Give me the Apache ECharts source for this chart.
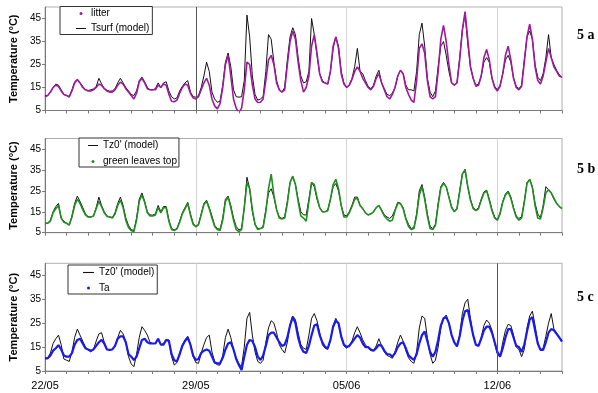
<!DOCTYPE html>
<html>
<head>
<meta charset="utf-8">
<script src="https://cdn.jsdelivr.net/npm/echarts@6/dist/echarts.min.js"></script>
<style>
html,body{margin:0;padding:0;background:#fff;}
#chart{width:598px;height:393px;}
</style>
</head>
<body>
<div id="chart"></div>
<script>
// time step between values: 3 hours, in days; x axis in days since 22/05
const stepDays = 3 / 24;
const tickDays = [0, 7, 14, 21];
const tickLabels = ['22/05', '29/05', '05/06', '12/06'];
const weekLineDays = [7, 14, 21];
const yTicks = [5, 15, 25, 35, 45];

// Panel 5a
const tsurfModel = [
11.5,11.5,13,15,16.5,16,14,12,
11.5,10.8,14,17.5,18.5,17,15.5,14,
13.7,14,14.4,15.4,19,16.6,14.6,13.8,
13.4,13.5,14.5,17,19,17,15,13.5,
12,11.5,13.5,18,19.5,17.5,15,14,
14,14.5,17,15,17,17.5,13.5,11,
10,10.5,13.5,15.5,17,18,13,11,
10.8,11.5,15,20,26,22,13,10,
8.6,9,16,26,30,24,14,11,
10.8,11,18,46.5,37,20,12,9.5,
10,11,22,38,36,26,18,14,
13,15,27,37,41,38,28,20,
17,17.5,22,45,38,29,21,18,
17,16.5,22,32,37,33,22,17,
15,16,19,24,32,22,21,18,
15.5,14.5,16,20,22.5,17,14.5,12,
11.5,12.5,15,20,22.5,21,16,14,
14,13.5,22,38,43,33,19,13,
11,13.5,24,33,35,29,22,17,
16,17,28,40,47,34,24,19,
16,16.5,20,26,28,26,19,15.5,
14,16,21,27,29,26,19,15.5,
14.5,16,27,37,39.5,36,25,19.5,
18,21,28,38,28,25,22.5,20.5,
19.5];
const litter = [
11,11.5,13,15,16,15.5,13.5,12,
11.5,11,13.5,17,18.5,17,15,14,
13.5,13.5,14,15,16.5,16,14.5,13.5,
13,13,14,16,17.3,16.5,14.5,13,
11.5,10,12.5,17.5,19,17,14.5,14,
14,14,16,15,16.5,16,12,9,
8.8,9.5,12.5,15,16.5,16,12.5,10.5,
10,11,14,17,19,16,10,7,
5.7,8,15,25,29,20,10,6,
4,6,14,26,25,16,10,8.5,
8.6,10,18,27,29,25,17,14,
13,14,25,35,39.5,36,26,18,
13,15,20,33,38,30,21,17.5,
17,16.5,22,33,37,32,21,16.5,
15,16,18.5,22,24,22,19,17,
15,14,15.5,19,21,17,14,11,
10,12,15,20,22.5,21,15,12,
9.5,8.5,18,32,34,30,18,11,
10,11,22,36,42,35,25,17,
16,17,27,40,48,36,24,19,
15.5,16,20,28,31.5,27,19,15,
13.5,15.5,21,29,33,27,19,15,
14,15.5,26,37,42.5,36,24,18,
16.5,20,26,32,28,24,22,20,
19.5];

// Panel 5b
const tz0ModelB = [
9.5,9.5,11,15,17.5,19,12,10.5,
9.5,8.7,13,19,22.5,20,17,14,
12.6,12.5,13,17,22,18,15,13,
12.5,12.3,14.5,19,22,18,12,8.5,
6.5,6,12,21,24,20,15,13.5,
13.4,14,18,15,17.5,17.5,11,7,
6.3,7,10.5,14.5,17,19.5,14,9.5,
7.9,9,14,19,20.5,17,13,8.5,
7,6.6,12,21,22.5,18,12,8,
6.3,7,17,31.5,26,15,9,7,
7,8,16,24,26,22,16,12.5,
11.8,12.5,20,29,31.8,28,21,15,
13.5,13.5,21,29,27,21,17,15,
15,15.8,21,27,28.5,25,18,13.5,
13,15,18,22,22,18,16.5,14.5,
13.5,14,15,17,18,16,13.5,12.5,
11.8,13,16,19.5,19,17,12,9,
7,7.5,14,25,28,22,14,8,
7,9,19,27,29,27,22,17.5,
15,16.5,25,33,35.3,27,21,17,
15.8,17,21,24.5,25.3,21,16,12.5,
11,14.5,20,23.5,24.9,22,17,13,
11.8,12.5,20,29,30.5,27,19,14,
12,18,27,25.5,24,21,19,17.5,
16.6];
const greenLeavesTop = [
9.5,9.5,10.5,14.5,16.5,18,12,10,
9.5,8.7,12.5,18,21,19,16,13.5,
12.5,12.5,13,16.5,20,17.5,14.5,12.8,
12.5,12,14,18,20.5,17,11,7.5,
6,5.5,11,20,23,19.5,14.5,13,
13,13.5,17,14.5,17,17,10.5,6.5,
6,6.8,10,14,16.5,19,13.5,9,
7.9,8.8,13.5,18.5,20,16.5,12,8,
6.5,6,11,20,22,17,11,6.5,
5.5,6.5,17,29,26,16,9,6.5,
7,7.5,15,26,33,23,16,12,
11.5,12,19,29,32,28,20,13,
12,10.5,20,29,28,22,17,15,
15,15.5,21,28,30.5,26,18,12.5,
12.5,14.5,17.5,21,21.5,18,16.5,14.5,
13.5,14,15,17,18,15.5,13,11.5,
10.5,11,15.5,19,19,16.5,11.5,8,
6.5,7,13,23,27,21,13,7,
6.5,8.5,18,26.5,28.5,27,22,17,
15,16.5,24.5,33,35,27,20.5,16.5,
15.5,16.5,20.5,24,25,20.5,15.5,12,
11,14,19.5,23,24.5,21.5,16.5,12.5,
11,12,19.5,28.5,30.5,26.5,18,12,
11.5,17,24,25.5,24,21.5,19,17.5,
16.5];

// Panel 5c
const tz0ModelC = [
10.3,10.5,12.5,16.5,18.5,20,16,10,
9.5,9,13,19,22.5,20,17.5,15,
13.8,13,14,17.5,20.5,21,17,14,
13.8,14,15.5,19,22,20.5,17,11,
8,6.8,12,19,23.5,22,20,17,
16.5,16.5,18.5,16,16.5,18,18,11,
7.5,8.5,12.5,16,18,19.5,16,11,
8.5,8.2,12.5,16,19,20,13,9,
7.5,7.5,11.5,19,22.5,19,14,10.5,
8,7,15,27,29.5,20,13,9,
8.2,9.5,17,23,26,25,21,16,
14,12.5,17,24.5,28,26.5,21,16,
14.5,14,20,27,29,26,21,16,
14.5,14,18,24,27,24.5,19,15.5,
14.5,15.5,17.5,21,23.5,21,18,16,
14.5,13.5,13.5,15.5,18.5,15.5,13,11.5,
11,10.3,13,17,20,17.5,13.5,10.5,
9,8.2,13,23,28,27,19,12,
8.2,9.5,15,23,27,28.4,25,20,
17,15.5,20,29,33.5,35,27,20,
16,15.5,19,24,26.3,25,22,16.5,
12,11,17,22,24.5,24,20,15,
14,11,14,23,28,30,24,17,
13.8,14.5,19.5,25,29,22.5,21,19,
18];
const ta = [
10.3,10.3,11.5,13.5,14.5,15.8,14,11.5,
11,11,12.5,16,18,18.5,16.5,14.5,
14,13.5,14,15.5,17,18,16.5,14,
13.8,14,15.5,18.5,19.5,19.5,17,12,
11,9.6,11,14.5,18,18.5,17,16.5,
16.5,16.5,18.5,16,16,18,17.5,12,
9.5,9,12,15.5,17.5,19,16,11.5,
9.6,10,12.5,13.5,14,13.5,11,8.5,
8.2,8.2,10.5,14,16.5,17,14,10,
7.5,5.4,11,16,18,17.5,15,11,
9.6,11.5,15.5,20,21,21,19,17,
15.5,16,19,24,27.5,25,19,15,
13,12.5,15.5,20,24,24.5,20,17,
15,14.5,18,23.5,26,25,19.5,16,
15,15.5,17,18.5,20,19,16.5,15,
15,14,13.5,14.5,16,15.5,13.5,12,
12,11,12.5,15,16.5,17,14.5,11.5,
10.5,9.6,12,16.5,20,21.5,17.5,13,
11,13,18,24,27,27.5,25,20,
17,15.3,19.5,26,30,30.5,25.5,20,
16,15.5,18.5,22,23.5,23.5,21,17,
13,11,14.5,19,22.5,22.5,19,15.5,
15,13,16,21.5,26.5,27.5,22,16.5,
13.8,13.8,17,21,22.5,22,20.5,19,
17.3];

const toXY = arr => arr.map((v, i) => [i * stepDays, v]);

const FONT = '"Liberation Sans", Arial, sans-serif';
const grids = [
  {left: 36, top: 7, width: 526, height: 103.5},
  {left: 36, top: 138.5, width: 526, height: 94.2},
  {left: 36, top: 263.3, width: 526, height: 107.7}
];
const axisColor = '#7a7a7a';
const LINE_ICON = 'path://M0 0H20V2H0Z';

function mainX(i, showLabels) {
  return {
    type: 'value', gridIndex: i, min: 0, max: 24, interval: 1, position: 'bottom',
    axisLine: {show: true, onZero: false, lineStyle: {color: axisColor, width: 1}},
    axisTick: {show: true, length: 3, lineStyle: {color: axisColor}},
    splitLine: {show: false},
    axisLabel: {
      show: showLabels, margin: 9, color: '#000', fontSize: 11, fontFamily: FONT,
      formatter: v => { const k = tickDays.indexOf(Math.round(v * 1000) / 1000); return k >= 0 ? tickLabels[k] : ''; }
    }
  };
}
function weekX(i) {
  return {
    type: 'value', gridIndex: i, min: 0, max: 24, interval: 7, position: 'bottom',
    axisLine: {show: false}, axisTick: {show: false}, axisLabel: {show: false},
    splitLine: {show: true, lineStyle: {color: '#d4d4d4', width: 1}}
  };
}
function yAx(i) {
  return {
    type: 'value', gridIndex: i, min: 5, max: 50, interval: 10,
    name: 'Temperature (°C)', nameLocation: 'middle', nameGap: 26, nameRotate: 90,
    nameTextStyle: {fontWeight: 'bold', fontSize: 11, fontFamily: FONT, color: '#000'},
    axisLine: {show: true, lineStyle: {color: axisColor, width: 1}},
    axisTick: {show: true, length: 3, lineStyle: {color: axisColor}},
    splitLine: {show: false},
    axisLabel: {margin: 4, color: '#000', fontSize: 10, fontFamily: FONT, showMaxLabel: false,
      formatter: v => (yTicks.indexOf(v) >= 0 ? String(v) : '')}
  };
}
function modelSeries(name, data, i, darkLineDay) {
  const s = {
    name: name, type: 'line', xAxisIndex: i, yAxisIndex: i, data: toXY(data),
    symbol: 'none', lineStyle: {color: '#111', width: 1}, itemStyle: {color: '#111'},
    z: 2, animation: false
  };
  if (darkLineDay !== null) {
    s.markLine = {silent: true, symbol: ['none', 'none'], label: {show: false},
      lineStyle: {color: '#555', width: 1, type: 'solid'}, animation: false,
      data: [{xAxis: darkLineDay}]};
  }
  return s;
}
function measSeries(name, data, i, color, width) {
  return {
    name: name, type: 'line', xAxisIndex: i, yAxisIndex: i, data: toXY(data),
    symbol: 'none', lineStyle: {color: color, width: width}, itemStyle: {color: color},
    z: 3, animation: false
  };
}
function legendBox(left, top, items, gap, pad, iw) {
  return {
    left: left, top: top, orient: 'vertical', itemGap: gap, itemWidth: iw, itemHeight: 3,
    padding: pad, borderColor: '#333', borderWidth: 1, backgroundColor: '#fff',
    selectedMode: false,
    textStyle: {fontSize: 10, fontFamily: FONT, color: '#000'},
    data: items
  };
}

const chart = echarts.init(document.getElementById('chart'), null, {renderer: 'canvas'});
chart.setOption({
  animation: false,
  backgroundColor: '#fff',
  grid: grids.map(g => Object.assign({show: true, borderColor: '#b0b0b0', borderWidth: 1, containLabel: false}, g)),
  xAxis: [mainX(0, false), mainX(1, false), mainX(2, true), weekX(0), weekX(1), weekX(2)],
  yAxis: [yAx(0), yAx(1), yAx(2)],
  legend: [
    legendBox(60, 6.5, [{name: 'litter', icon: 'circle'}, {name: 'Tsurf (model)', icon: LINE_ICON}], 5, [2, 3, 1, 16], 10),
    legendBox(79, 138, [{name: "Tz0' (model)", icon: LINE_ICON}, {name: 'green leaves top', icon: 'circle'}], 6, [2.5, 2, 0.5, 9], 10),
    legendBox(68, 265, [{name: "Tz0' (model)", icon: LINE_ICON}, {name: 'Ta', icon: 'circle'}], 5.5, [2.5, 3, 1, 15], 11)
  ],
  graphic: [
    {type: 'text', x: 577, y: 35, style: {text: '5 a', font: 'bold 14px "Liberation Serif", "Times New Roman", serif', fill: '#000', verticalAlign: 'middle'}},
    {type: 'text', x: 577, y: 169, style: {text: '5 b', font: 'bold 14px "Liberation Serif", "Times New Roman", serif', fill: '#000', verticalAlign: 'middle'}},
    {type: 'text', x: 577, y: 297, style: {text: '5 c', font: 'bold 14px "Liberation Serif", "Times New Roman", serif', fill: '#000', verticalAlign: 'middle'}}
  ],
  series: [
    modelSeries('Tsurf (model)', tsurfModel, 0, weekLineDays[0]),
    measSeries('litter', litter, 0, '#a0189f', 1.6),
    modelSeries("Tz0' (model)", tz0ModelB, 1, null),
    measSeries('green leaves top', greenLeavesTop, 1, '#1f8f1f', 1.6),
    modelSeries("Tz0' (model)", tz0ModelC, 2, weekLineDays[2]),
    measSeries('Ta', ta, 2, '#1a1af0', 2.2)
  ]
});
</script>
</body>
</html>
